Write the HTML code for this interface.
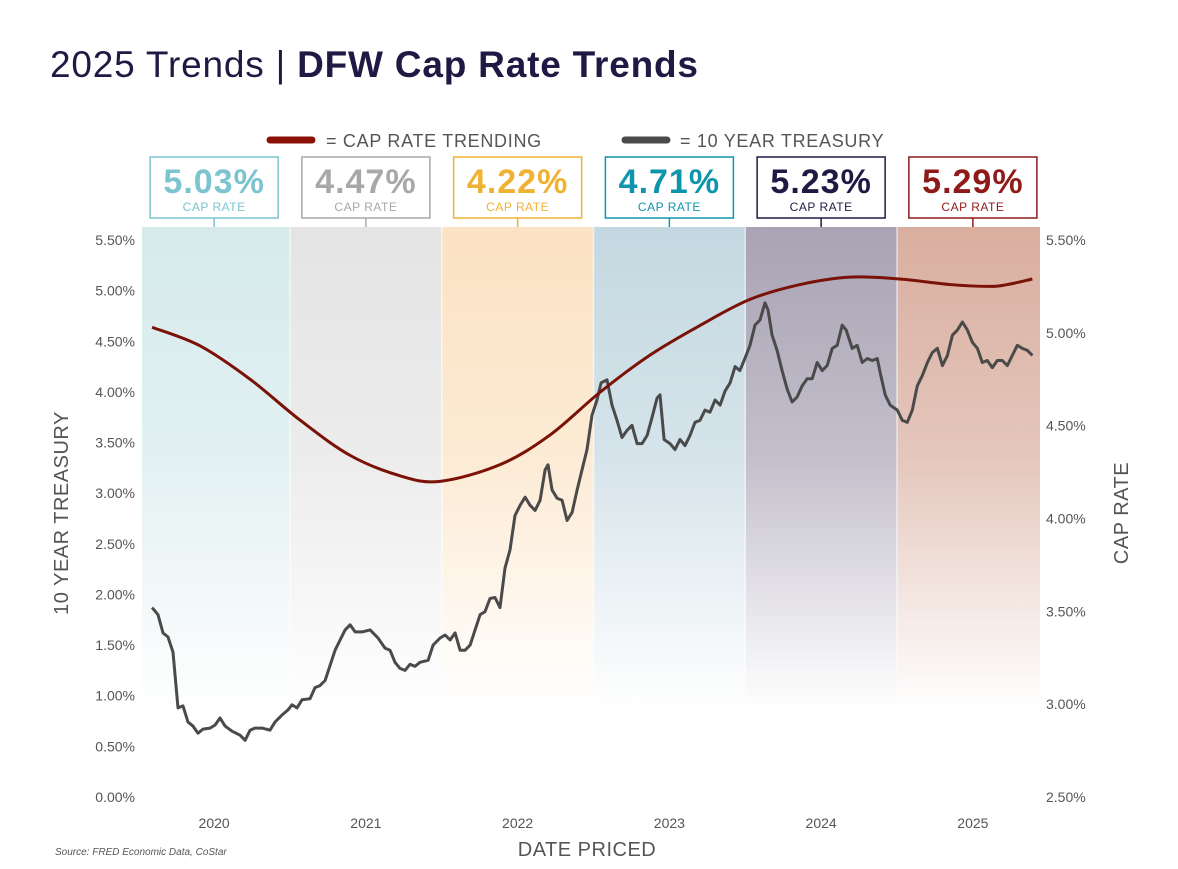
<!DOCTYPE html>
<html><head><meta charset="utf-8"><style>
body{margin:0;background:#fff;width:1178px;height:869px;overflow:hidden;font-family:"Liberation Sans",sans-serif}
svg{display:block}
</style></head><body>
<svg id="chart" width="1178" height="869" xmlns="http://www.w3.org/2000/svg">
<defs id="defs"></defs>
<text x="50" y="77" font-size="37" letter-spacing="0.8" fill="#1f1a44">2025 Trends | <tspan font-weight="bold">DFW Cap Rate Trends</tspan></text>
<g>
<line x1="270" y1="140" x2="312" y2="140" stroke="#8b1005" stroke-width="7" stroke-linecap="round"/>
<text x="326" y="147" font-size="18" letter-spacing="0.7" fill="#555">= CAP RATE TRENDING</text>
<line x1="625" y1="140" x2="667" y2="140" stroke="#4a4a4a" stroke-width="7" stroke-linecap="round"/>
<text x="680" y="147" font-size="18" letter-spacing="0.7" fill="#555">= 10 YEAR TREASURY</text>
</g>
<g id="bands"></g><g id="boxes"></g><g id="axes"></g><g id="series"></g>
<text transform="translate(68,513) rotate(-90)" text-anchor="middle" font-size="20" letter-spacing="0.5" fill="#555">10 YEAR TREASURY</text>
<text transform="translate(1128,513) rotate(-90)" text-anchor="middle" font-size="20" letter-spacing="0.5" fill="#555">CAP RATE</text>
<text x="587" y="856" text-anchor="middle" font-size="20" letter-spacing="0.5" fill="#555">DATE PRICED</text>
<text x="55" y="855" font-size="10" font-style="italic" fill="#555">Source: FRED Economic Data, CoStar</text>
</svg>
<script>
const years=[2020,2021,2022,2023,2024,2025];
const capRateLabels=["5.03%","4.47%","4.22%","4.71%","5.23%","5.29%"];
const boxColors=["#7cc4cf","#a8a8a8","#f0b233","#0f95ab","#1f1a44","#8f1a1a"];
const bandColors=["#d6eaec","#e4e4e4","#fbe2c2","#c4d8e1","#a9a3b4","#d9ae9f"];
const leftTicks=[0,0.5,1,1.5,2,2.5,3,3.5,4,4.5,5,5.5];
const rightTicks=[2.5,3,3.5,4,4.5,5,5.5];
const treasury=[1.87,1.80,1.62,1.58,1.43,0.88,0.90,0.74,0.70,0.63,0.67,0.68,0.71,0.78,0.70,0.65,0.61,0.56,0.66,0.68,0.68,0.66,0.74,0.81,0.86,0.91,0.88,0.96,0.97,1.08,1.10,1.15,1.30,1.45,1.55,1.65,1.70,1.63,1.63,1.65,1.57,1.47,1.45,1.33,1.27,1.25,1.31,1.29,1.33,1.35,1.50,1.57,1.60,1.55,1.62,1.45,1.45,1.50,1.65,1.80,1.83,1.96,1.97,1.87,2.26,2.44,2.78,2.88,2.96,2.88,2.83,2.93,3.23,3.28,3.03,2.95,2.93,2.73,2.81,3.03,3.23,3.43,3.77,3.92,4.09,4.12,3.87,3.72,3.55,3.62,3.67,3.49,3.49,3.57,3.75,3.94,3.97,3.53,3.49,3.43,3.53,3.47,3.57,3.70,3.72,3.82,3.80,3.92,3.87,4.01,4.09,4.25,4.21,4.33,4.46,4.66,4.71,4.88,4.81,4.56,4.41,4.21,4.03,3.90,3.95,4.06,4.13,4.13,4.29,4.21,4.26,4.43,4.46,4.66,4.61,4.43,4.46,4.29,4.33,4.31,4.33,4.19,3.97,3.87,3.82,3.72,3.70,3.82,4.06,4.16,4.29,4.39,4.43,4.26,4.36,4.56,4.61,4.69,4.61,4.49,4.43,4.29,4.31,4.24,4.31,4.31,4.26,4.36,4.46,4.43,4.41,4.36];
const treasuryDates=[0.091,0.130,0.163,0.196,0.229,0.262,0.295,0.328,0.361,0.394,0.427,0.473,0.506,0.539,0.572,0.618,0.671,0.704,0.737,0.769,0.816,0.868,0.901,0.947,0.987,1.013,1.046,1.079,1.132,1.165,1.198,1.231,1.264,1.297,1.330,1.363,1.396,1.429,1.475,1.528,1.580,1.626,1.659,1.692,1.725,1.758,1.791,1.824,1.857,1.910,1.943,1.989,2.022,2.055,2.088,2.121,2.154,2.187,2.220,2.253,2.285,2.318,2.351,2.384,2.417,2.450,2.483,2.516,2.549,2.582,2.615,2.648,2.681,2.700,2.727,2.760,2.793,2.826,2.859,2.892,2.924,2.957,2.990,3.023,3.050,3.089,3.122,3.155,3.188,3.221,3.254,3.287,3.320,3.353,3.386,3.419,3.438,3.465,3.504,3.537,3.570,3.603,3.636,3.669,3.702,3.735,3.768,3.801,3.834,3.867,3.900,3.933,3.965,3.998,4.031,4.064,4.097,4.130,4.150,4.177,4.210,4.243,4.276,4.309,4.342,4.375,4.408,4.441,4.474,4.507,4.540,4.573,4.606,4.639,4.665,4.705,4.738,4.771,4.804,4.837,4.870,4.889,4.922,4.955,5.002,5.035,5.068,5.101,5.134,5.167,5.200,5.233,5.266,5.299,5.332,5.365,5.398,5.431,5.464,5.497,5.530,5.562,5.595,5.628,5.661,5.694,5.727,5.760,5.793,5.826,5.859,5.892];
const capDates=[0.091,0.407,0.737,1.066,1.396,1.725,1.989,2.384,2.714,3.043,3.372,3.702,4.031,4.361,4.690,5.020,5.349,5.613,5.727,5.892];
const capValues=[5.03,4.93,4.75,4.53,4.34,4.23,4.20,4.29,4.45,4.68,4.88,5.04,5.18,5.26,5.30,5.29,5.26,5.25,5.26,5.29];

const NS="http://www.w3.org/2000/svg";
const X0=142,X1=1040,Ytop=227,Ybot=797;
const xs=t=>138.25+(t-2020)*151.75;
const yl=v=>797-v/5.5*557;
const yr=v=>797-(v-2.5)/3*557;
function mk(tag,attrs,parent){const e=document.createElementNS(NS,tag);for(const k in attrs)e.setAttribute(k,attrs[k]);parent.appendChild(e);return e;}
const defs=document.getElementById('defs'),bands=document.getElementById('bands'),boxes=document.getElementById('boxes'),axes=document.getElementById('axes'),series=document.getElementById('series');
years.forEach((y,i)=>{
  const g=mk('linearGradient',{id:'g'+i,x1:0,y1:0,x2:0,y2:1},defs);
  mk('stop',{offset:'0','stop-color':bandColors[i],'stop-opacity':1},g);
  mk('stop',{offset:'0.4','stop-color':bandColors[i],'stop-opacity':0.7},g);
  mk('stop',{offset:'0.85','stop-color':bandColors[i],'stop-opacity':0},g);
  const a=Math.max(X0,xs(y)),b=Math.min(X1,xs(y+1));
  const r=mk('rect',{x:a,y:Ytop,width:b-a,height:Ybot-Ytop,fill:'url(#g'+i+')'},bands);
  
  
  if(i>0){mk('line',{x1:a,y1:Ytop,x2:a,y2:Ytop+450,stroke:'#ffffff','stroke-opacity':0.6,'stroke-width':1.5},bands);}
  const cx=xs(y+0.5);
  const bx=mk('g',{},boxes);
  
  
  mk('rect',{x:cx-64,y:157,width:128,height:61,fill:'#fff',stroke:boxColors[i],'stroke-width':1.5},bx);
  mk('line',{x1:cx,y1:218,x2:cx,y2:227,stroke:boxColors[i],'stroke-width':1.5},bx);
  const t=mk('text',{x:cx,y:193,'text-anchor':'middle','font-size':34,'font-weight':'bold','letter-spacing':1,fill:boxColors[i]},bx);t.textContent=capRateLabels[i];
  const t2=mk('text',{x:cx,y:211,'text-anchor':'middle','font-size':12,'letter-spacing':0.5,fill:boxColors[i]},bx);t2.textContent='CAP RATE';
  const yt=mk('text',{x:cx,y:828,'text-anchor':'middle','font-size':14,fill:'#555'},axes);yt.textContent=y;
  
  
});
leftTicks.forEach(v=>{const t=mk('text',{x:135,y:yl(v)+5,'text-anchor':'end','font-size':14,fill:'#555'},axes);t.textContent=v.toFixed(2)+'%';
  
  });
rightTicks.forEach(v=>{const t=mk('text',{x:1046,y:yr(v)+5,'font-size':14,fill:'#555'},axes);t.textContent=v.toFixed(2)+'%';
  
  });
let d='';const n=Math.min(treasury.length,treasuryDates.length);
for(let i=0;i<n;i++){d+=(i?'L':'M')+xs(2020+treasuryDates[i]).toFixed(1)+','+yl(treasury[i]).toFixed(1);}
const tl=mk('path',{d:d,fill:'none',stroke:'#4a4a4a','stroke-width':3,'stroke-linejoin':'round'},series);


const P=capDates.map((t,i)=>[xs(2020+t),yr(capValues[i])]);
let c='M'+P[0][0]+','+P[0][1];
for(let i=0;i<P.length-1;i++){const p0=P[Math.max(0,i-1)],p1=P[i],p2=P[i+1],p3=P[Math.min(P.length-1,i+2)];
 c+='C'+(p1[0]+(p2[0]-p0[0])/6)+','+(p1[1]+(p2[1]-p0[1])/6)+' '+(p2[0]-(p3[0]-p1[0])/6)+','+(p2[1]-(p3[1]-p1[1])/6)+' '+p2[0]+','+p2[1];}
const cl=mk('path',{d:c,fill:'none',stroke:'#7a1208','stroke-width':3},series);


</script>
</body></html>
